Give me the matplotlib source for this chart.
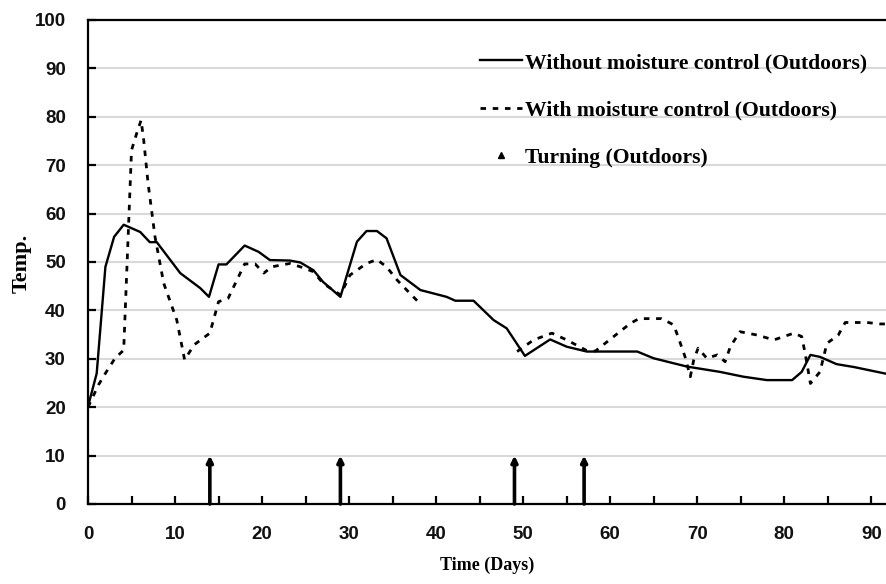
import numpy as np
import matplotlib
matplotlib.use("Agg")
import matplotlib.pyplot as plt
from matplotlib.lines import Line2D

# ---- data ----
solid_days = [0, 0.2, 1, 2, 3, 4.1, 6, 7.1, 7.9, 10.6, 12.9, 13.9, 15, 15.9, 18, 19.6,
              20.9, 23.2, 24.4, 25.9, 27, 29, 30.9, 32, 33.2, 34.3, 35.9, 38.2, 39.7,
              41.2, 42.2, 44.3, 46.6, 48.1, 50.2, 53.1, 55, 57.3, 63.1, 65, 68.8, 72.6,
              75.3, 78, 80.9, 82, 83, 84.1, 86, 88, 92]
solid_temp = [20, 21.5, 27, 49, 55.2, 57.7, 56.2, 54.1, 54.1, 47.7, 44.6, 42.8, 49.5, 49.5,
              53.4, 52.1, 50.4, 50.3, 49.9, 48.3, 45.9, 42.8, 54.2, 56.4, 56.4, 54.9,
              47.3, 44.2, 43.5, 42.8, 42.0, 42.0, 38.0, 36.3, 30.6, 34.0, 32.5, 31.5,
              31.5, 30.1, 28.4, 27.3, 26.3, 25.6, 25.6, 27.3, 30.8, 30.4, 28.9, 28.3, 26.8]

dashed_days = [0, 1.2, 2, 3.1, 4.1, 5, 5.6, 6.1, 6.4, 6.9, 7.7, 8.7, 10.2, 11.1, 12.2, 14,
               15, 16.1, 18, 19.2, 20.2, 21.1, 23.2, 24.4, 25.9, 27, 29, 30.1, 32, 33.2,
               34.3, 35.5, 37, 38.2, 43, 49.3, 51.2, 53.3, 55, 57.3, 58.3, 60.4, 62.3,
               63.3, 65.9, 67.3, 68, 68.6, 69.2, 69.6, 70.1, 71.1, 72.3, 73.2, 73.8, 74.9,
               76.9, 78.8, 81.1, 82, 82.4, 83, 84.1, 84.9, 86.2, 87, 89.5, 91, 92]
dashed_temp = [20, 24.6, 27, 30.1, 31.8, 73.1, 76.6, 79.3, 75.2, 66.3, 55.2, 45.6, 38, 29.8,
               32.9, 35.3, 41.8, 42.5, 49.6, 49.6, 47.7, 49, 49.7, 49, 48, 45.6, 43.2,
               47.3, 49.7, 50.5, 49, 46.3, 43.5, 41.3, np.nan, 31.5, 33.9, 35.3, 33.9,
               31.7, 31.6, 34.6, 37.3, 38.3, 38.3, 37, 33.5, 30.4, 26.3, 29.8, 32.2,
               30.1, 30.8, 29.4, 32.5, 35.6, 34.9, 33.9, 35.3, 34.6, 31.1, 24.9, 27.3,
               33.2, 34.9, 37.5, 37.5, 37.2, 37.2]

turning_days = [14, 29, 49, 57]
turning_height = 10

x_ticks = [0, 10, 20, 30, 40, 50, 60, 70, 80, 90]
y_ticks = [0, 10, 20, 30, 40, 50, 60, 70, 80, 90, 100]

label_solid = "Without moisture control (Outdoors)"
label_dashed = "With moisture control (Outdoors)"
label_turn = "Turning (Outdoors)"

# ---- figure ----
W, H = 887, 584
fig = plt.figure(figsize=(W / 100, H / 100), dpi=100)
ax = fig.add_axes([88 / W, (H - 504) / H, (W - 88) / W, 484 / H])

ax.set_xlim(0, 91.8)
ax.set_ylim(0, 100)

ax.grid(axis="y", color="#d9d9d9", linewidth=1.5)
ax.set_axisbelow(True)

ax.plot(solid_days, solid_temp, color="black", linewidth=1.7, solid_joinstyle="round")
ax.plot(dashed_days, dashed_temp, color="black", linewidth=2.0,
        linestyle=(0, (2.0, 2.4)))

for d in turning_days:
    ax.annotate("", xy=(d, turning_height), xytext=(d, 0),
                arrowprops=dict(arrowstyle="-|>", color="black", lw=2.6,
                                mutation_scale=9, shrinkA=0, shrinkB=0))

# spines
for s in ["left", "bottom", "top"]:
    ax.spines[s].set_linewidth(1.6)
    ax.spines[s].set_color("black")
ax.spines["right"].set_visible(False)

ax.set_xticks(x_ticks)
ax.set_xticks(np.arange(5, 92, 10), minor=True)
ax.set_yticks(y_ticks)
ax.tick_params(axis="x", which="both", direction="in", length=5.5, width=1.6,
               pad=16, top=False)
ax.tick_params(axis="y", direction="in", length=5.5, width=1.6, pad=16, right=False)

tick_font = dict(family="Liberation Sans", weight="bold", size=13.5)
ax.set_xticklabels([str(t) for t in x_ticks], fontdict=tick_font, color="#111111")
ax.set_yticklabels([str(t) for t in y_ticks], fontdict=tick_font, color="#111111")

serif = "Liberation Serif"
ax.set_xlabel("Time (Days)", family=serif, weight="bold", fontsize=13, labelpad=10)
ax.set_ylabel("Temp.", family=serif, weight="bold", fontsize=16)
ax.yaxis.set_label_coords((32 - 88) / (W - 88), (504 - 263) / 484)

handles = [
    Line2D([], [], color="black", linewidth=1.7),
    Line2D([], [], color="black", linewidth=2.0, linestyle=(0, (2.0, 2.4))),
    Line2D([], [], color="black", linestyle="none", marker="^", markersize=4.5),
]
leg = ax.legend(handles, [label_solid, label_dashed, label_turn],
                loc="upper left", bbox_to_anchor=(0.480, 0.950), frameon=False,
                prop=dict(family=serif, weight="bold", size=15.6),
                handlelength=1.95, handletextpad=0.12, labelspacing=1.26,
                borderaxespad=0)

fig.savefig("out.png", dpi=100, facecolor="white")
